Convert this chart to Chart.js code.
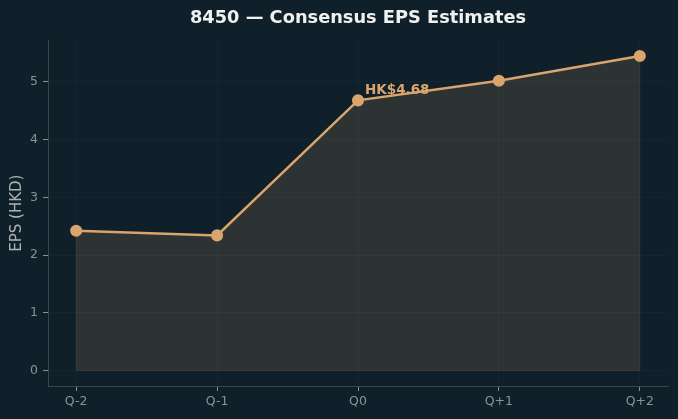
<!DOCTYPE html>
<html>
<head>
<meta charset="utf-8">
<script src="https://cdn.jsdelivr.net/npm/chart.js@4.4.0/dist/chart.umd.min.js"></script>
<style>
  html, body { margin: 0; padding: 0; background: #10202a; }
  #wrap { width: 678px; height: 419px; }
</style>
</head>
<body>
<div id="wrap"><canvas id="eps_chart"></canvas></div>
<script>
const quarters = ['Q-2', 'Q-1', 'Q0', 'Q+1', 'Q+2'];
const epsValues = [2.42, 2.34, 4.68, 5.02, 5.45];
const yTicks = [0, 1, 2, 3, 4, 5];
const highlightIndex = 2;
const highlightLabel = 'HK$4.68';

const lineColor = '#d9a46e';
const tickColor = '#8c9294';
const spineColor = '#3d4547';

// faint outline round the filled area, like the original
const areaEdge = {
  id: 'areaEdge',
  beforeDatasetsDraw(chart) {
    const pts = chart.getDatasetMeta(0).data;
    const y0 = chart.scales.y.getPixelForValue(0);
    const ctx = chart.ctx;
    ctx.save();
    ctx.strokeStyle = 'rgba(217,164,110,0.13)';
    ctx.lineWidth = 1;
    ctx.beginPath();
    ctx.moveTo(pts[0].x, pts[0].y);
    ctx.lineTo(pts[0].x, y0);
    ctx.lineTo(pts[pts.length - 1].x, y0);
    ctx.lineTo(pts[pts.length - 1].x, pts[pts.length - 1].y);
    ctx.stroke();
    ctx.restore();
  }
};

// label next to the current quarter point
const pointLabel = {
  id: 'pointLabel',
  afterDatasetsDraw(chart) {
    const pt = chart.getDatasetMeta(0).data[highlightIndex];
    const ctx = chart.ctx;
    ctx.save();
    ctx.font = 'bold 13.5px "DejaVu Sans"';
    ctx.fillStyle = lineColor;
    ctx.textAlign = 'left';
    ctx.textBaseline = 'alphabetic';
    ctx.fillText(highlightLabel, pt.x + 7, pt.y - 6);
    ctx.restore();
  }
};

new Chart(document.getElementById('eps_chart'), {
  type: 'line',
  data: {
    datasets: [{
      data: quarters.map((q, i) => ({ x: i, y: epsValues[i] })),
      borderColor: lineColor,
      borderWidth: 2.5,
      backgroundColor: 'rgba(217,164,110,0.15)',
      fill: 'origin',
      pointRadius: 4.8,
      pointBackgroundColor: lineColor,
      pointBorderColor: lineColor,
      pointHoverRadius: 4.8,
      tension: 0
    }]
  },
  options: {
    responsive: true,
    maintainAspectRatio: false,
    animation: false,
    layout: { padding: { left: 0, right: 10, top: 0, bottom: 0 } },
    plugins: {
      legend: { display: false },
      tooltip: { enabled: false },
      title: {
        display: true,
        fullSize: false,
        text: '8450 — Consensus EPS Estimates',
        color: '#f0f0ee',
        font: { family: 'DejaVu Sans', size: 17.8, weight: 'bold' },
        padding: { top: 8, bottom: 11 }
      }
    },
    scales: {
      x: {
        type: 'linear',
        min: -0.2,
        max: 4.2,
        afterBuildTicks: axis => { axis.ticks = quarters.map((q, i) => ({ value: i })); },
        afterFit: axis => { axis.height = 33; },
        ticks: {
          color: tickColor,
          font: { family: 'DejaVu Sans', size: 12.5 },
          padding: 3,
          callback: v => quarters[v]
        },
        grid: {
          color: 'rgba(255,255,255,0.025)',
          tickColor: tickColor,
          tickLength: 5
        },
        border: { color: spineColor, width: 1 }
      },
      y: {
        min: -0.27,
        max: 5.72,
        afterBuildTicks: axis => { axis.ticks = yTicks.map(v => ({ value: v })); },
        afterFit: axis => { axis.width = 48; },
        ticks: {
          color: tickColor,
          font: { family: 'DejaVu Sans', size: 12.5 },
          padding: 5
        },
        grid: {
          color: 'rgba(255,255,255,0.025)',
          tickColor: tickColor,
          tickLength: 5
        },
        border: { color: spineColor, width: 1 },
        title: {
          display: true,
          text: 'EPS (HKD)',
          color: '#aeb3b4',
          font: { family: 'DejaVu Sans', size: 15 },
          padding: { top: 8, bottom: 0 }
        }
      }
    }
  },
  plugins: [areaEdge, pointLabel]
});
</script>
</body>
</html>
